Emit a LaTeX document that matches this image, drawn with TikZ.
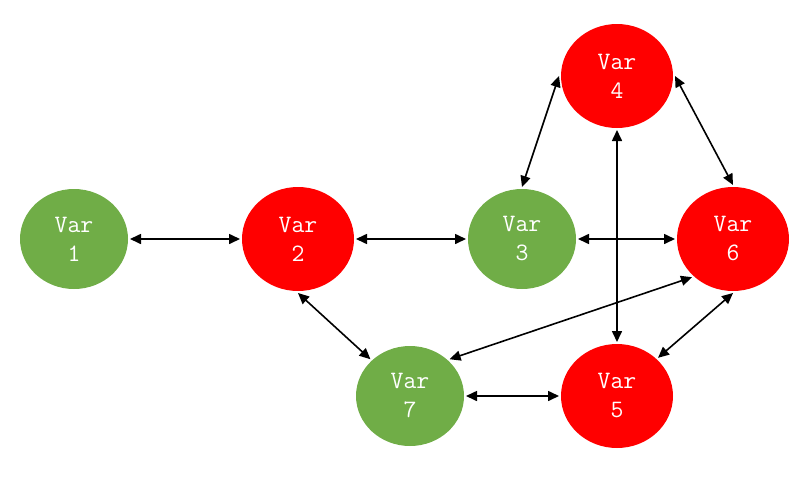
\documentclass[tikz,border=0pt]{standalone}
\usepackage{fontspec}
\usetikzlibrary{shapes.geometric,arrows.meta}
\definecolor{vgreen}{RGB}{112,173,71}
\definecolor{vred}{RGB}{255,0,0}
\tikzset{
  var/.style={ellipse, draw=none, inner sep=0pt, outer sep=2pt, text=white,
    font=\ttfamily\fontsize{25}{29}\selectfont, align=center},
  gvar/.style={var, fill=vgreen, minimum width=108pt, minimum height=100pt},
  rvar/.style={var, fill=vred, minimum width=112pt, minimum height=104pt},
  link/.style={line width=1.6pt, {Triangle[length=11pt,width=10pt]}-{Triangle[length=11pt,width=10pt]}}
}
\begin{document}
\begin{tikzpicture}[x=1pt,y=-1pt]
\useasboundingbox (0,0) rectangle (801,477);
\node[gvar] (v1) at (74,239) {Var\\1};
\node[rvar] (v2) at (298,239) {Var\\2};
\node[gvar] (v3) at (522,239) {Var\\3};
\node[rvar] (v4) at (617,76) {Var\\4};
\node[rvar] (v6) at (733,239) {Var\\6};
\node[gvar] (v7) at (410,396) {Var\\7};
\node[rvar] (v5) at (617,396) {Var\\5};
\draw[link] (v1) -- (v2);
\draw[link] (v2) -- (v3);
\draw[link] (v3) -- (v6);
\draw[link] (v3.north) -- (v4.west);
\draw[link] (v4.east) -- (v6.north);
\draw[link] (v4.south) -- (v5.north);
\draw[link] (v2.south) -- (v7.north west);
\draw[link] (v6.south west) -- (v7.north east);
\draw[link] (v6.south) -- (v5.north east);
\draw[link] (v7) -- (v5);
\end{tikzpicture}
\end{document}
